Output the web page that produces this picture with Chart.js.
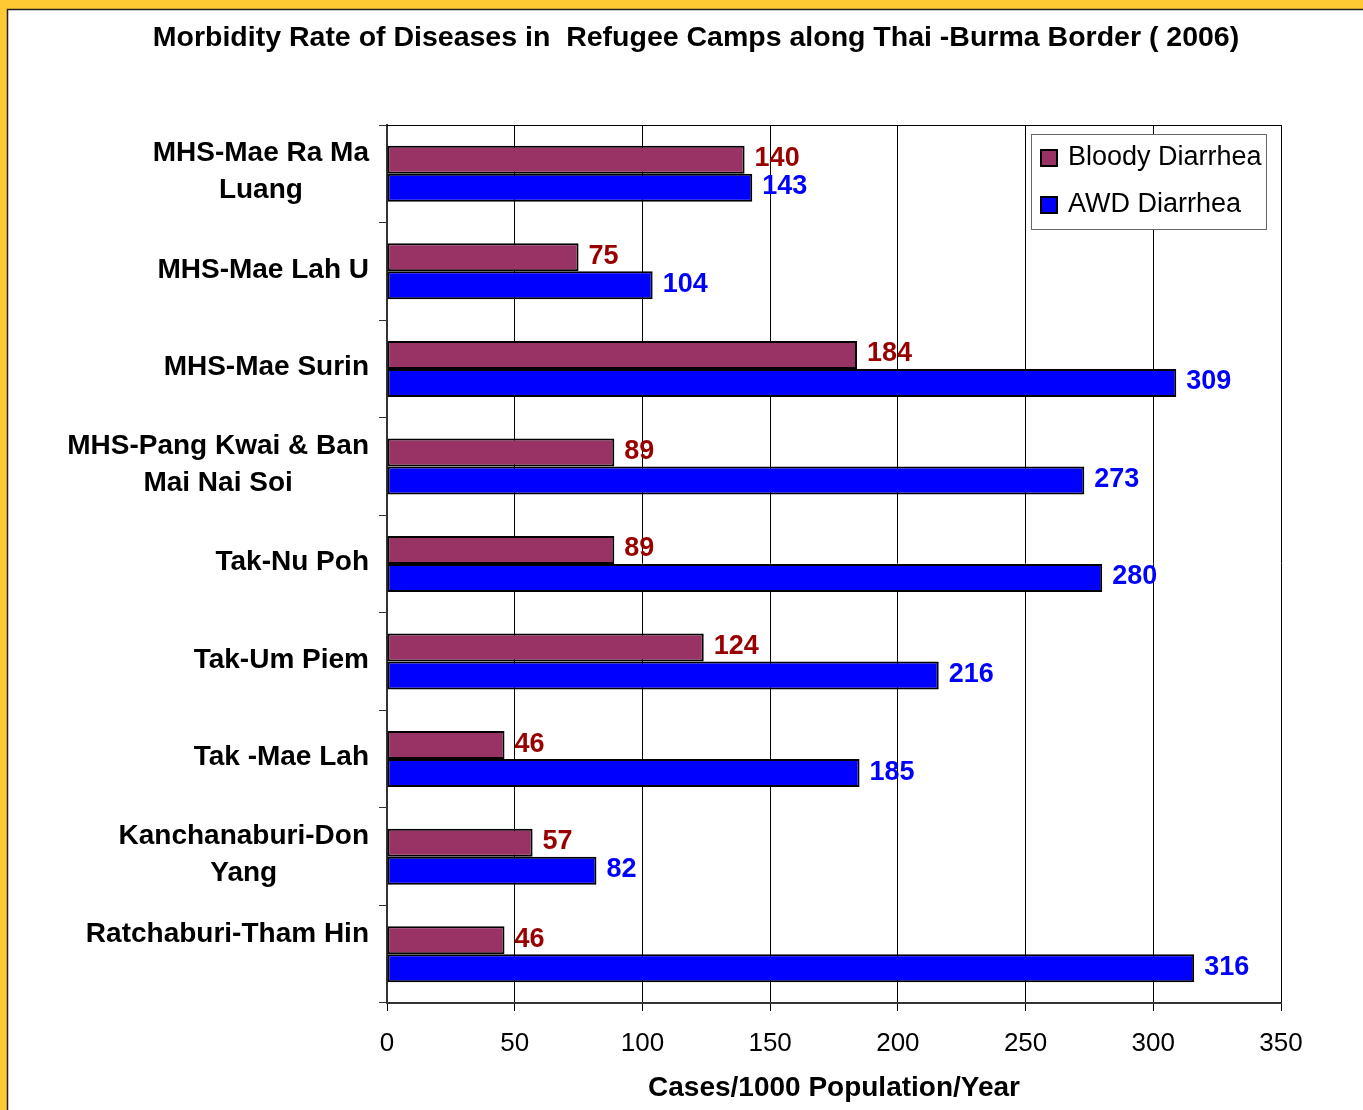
<!DOCTYPE html>
<html>
<head>
<meta charset="utf-8">
<script src="https://cdn.jsdelivr.net/npm/chart.js@4/dist/chart.umd.min.js"></script>
<style>
  html, body { margin: 0; padding: 0; background: #fff; }
  canvas { display: block; }
</style>
</head>
<body>
<canvas id="chart" width="1363" height="1110"></canvas>
<script>
// data
const camps = [
  ["MHS-Mae Ra Ma", "Luang"],
  "MHS-Mae Lah U",
  "MHS-Mae Surin",
  ["MHS-Pang Kwai & Ban", "Mai Nai Soi"],
  "Tak-Nu Poh",
  "Tak-Um Piem",
  "Tak -Mae Lah",
  ["Kanchanaburi-Don", "Yang"],
  ["Ratchaburi-Tham Hin", ""]
];
const bloodyDiarrhea = [140, 75, 184, 89, 89, 124, 46, 57, 46];
const awdDiarrhea = [143, 104, 309, 273, 280, 216, 185, 82, 316];
const seriesNames = ["Bloody Diarrhea", "AWD Diarrhea"];
const xTicks = [0, 50, 100, 150, 200, 250, 300, 350];
const chartTitle = "Morbidity Rate of Diseases in  Refugee Camps along Thai -Burma Border ( 2006)";
const xTitle = "Cases/1000 Population/Year";

const FONT = '"Liberation Sans", Arial, sans-serif';
const barColors = ["#993366", "#0000FF"];
const labelColors = ["#990000", "#0000FF"];

// yellow slide frame behind the chart
const framePlugin = {
  id: 'frame',
  beforeDraw(chart) {
    const c = chart.ctx;
    c.save();
    c.fillStyle = '#FFC933';
    c.fillRect(0, 0, chart.width, chart.height);
    c.fillStyle = '#fff';
    c.fillRect(8, 10, chart.width - 8, chart.height - 10);
    c.strokeStyle = '#222';
    c.lineWidth = 1.5;
    c.beginPath();
    c.moveTo(7.5, chart.height);
    c.lineTo(7.5, 9.5);
    c.lineTo(chart.width, 9.5);
    c.stroke();
    c.restore();
  }
};

// title, category labels, value labels, legend, top border
const extrasPlugin = {
  id: 'extras',
  afterDraw(chart) {
    const c = chart.ctx;
    const area = chart.chartArea;
    const yScale = chart.scales.y;
    c.save();

    // top border of plot
    c.strokeStyle = '#000';
    c.lineWidth = 1;
    c.beginPath();
    c.moveTo(area.left, area.top + 0.5);
    c.lineTo(area.right, area.top + 0.5);
    c.stroke();

    // title
    c.fillStyle = '#000';
    c.font = 'bold 28.5px ' + FONT;
    c.textAlign = 'center';
    c.textBaseline = 'middle';
    c.fillText(chartTitle, 696, 38);

    // category labels, block centred, right edge by the axis
    c.font = 'bold 28px ' + FONT;
    camps.forEach(function (lab, i) {
      const lines = Array.isArray(lab) ? lab : [lab];
      const y = yScale.getPixelForValue(i) - 1.5;
      let maxW = 0;
      lines.forEach(function (l) { maxW = Math.max(maxW, c.measureText(l).width); });
      const cx = 369 - maxW / 2;
      lines.forEach(function (l, j) {
        c.fillText(l, cx, y + (j - (lines.length - 1) / 2) * 37);
      });
    });

    // value labels
    c.font = 'bold 27px ' + FONT;
    c.textAlign = 'left';
    chart.data.datasets.forEach(function (ds, d) {
      const meta = chart.getDatasetMeta(d);
      c.fillStyle = labelColors[d];
      meta.data.forEach(function (bar, i) {
        c.fillText(String(ds.data[i]), bar.x + 10, bar.y - 1);
      });
    });

    // legend
    c.fillStyle = '#fff';
    c.fillRect(1031, 134, 235, 95);
    c.strokeStyle = '#666';
    c.lineWidth = 1;
    c.strokeRect(1031.5, 134.5, 235, 95);
    c.font = '27px ' + FONT;
    seriesNames.forEach(function (name, k) {
      const ty = 158 + k * 47;
      c.fillStyle = barColors[k];
      c.fillRect(1041, ty - 8, 16, 16);
      c.strokeStyle = '#000';
      c.lineWidth = 2;
      c.strokeRect(1041, ty - 8, 16, 16);
      c.fillStyle = '#000';
      c.fillText(name, 1068, ty);
    });

    c.restore();
  }
};

const ctx = document.getElementById('chart').getContext('2d');

const config = {
  type: 'bar',
  data: {
    labels: camps,
    datasets: [
      {
        label: seriesNames[0],
        data: bloodyDiarrhea,
        backgroundColor: barColors[0],
        borderColor: '#000',
        borderWidth: 2,
        borderSkipped: false
      },
      {
        label: seriesNames[1],
        data: awdDiarrhea,
        backgroundColor: barColors[1],
        borderColor: '#000',
        borderWidth: 2,
        borderSkipped: false
      }
    ]
  },
  options: {
    indexAxis: 'y',
    responsive: false,
    devicePixelRatio: 1,
    animation: false,
    categoryPercentage: 0.574,
    barPercentage: 1.0,
    layout: { padding: { top: 125, left: 0, right: 82, bottom: 0 } },
    plugins: {
      legend: { display: false },
      title: { display: false },
      tooltip: { enabled: false }
    },
    scales: {
      x: {
        min: 0,
        max: 350,
        afterBuildTicks: function (scale) {
          scale.ticks = xTicks.map(function (v) { return { value: v }; });
        },
        afterFit: function (scale) { scale.height = 107; },
        grid: { color: '#000', lineWidth: 1, tickLength: 8, drawTicks: true },
        border: { color: '#333', width: 2 },
        ticks: {
          color: '#000',
          padding: 17,
          maxRotation: 0,
          font: { family: FONT, size: 26 }
        },
        title: {
          display: true,
          text: xTitle,
          color: '#000',
          font: { family: FONT, size: 28, weight: 'bold' },
          padding: { top: 0, bottom: 5 }
        }
      },
      y: {
        afterFit: function (scale) { scale.width = 387; },
        grid: { drawOnChartArea: false, color: '#333', tickLength: 8, offset: true },
        border: { color: '#333', width: 2 },
        ticks: { display: false }
      }
    }
  },
  plugins: [framePlugin, extrasPlugin]
};

var chart = new Chart(ctx, config);
</script>
</body>
</html>
